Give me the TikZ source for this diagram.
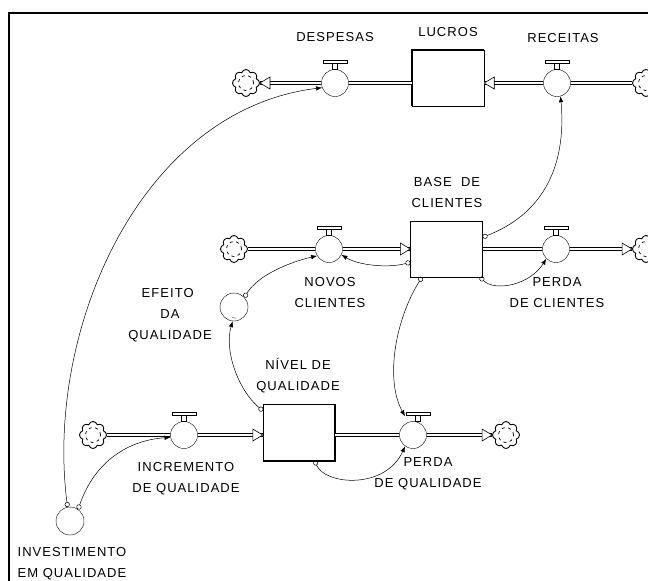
\documentclass[tikz,border=0pt]{standalone}
\usepackage{fontspec}
\newfontfamily\rotulo[LetterSpace=8]{Liberation Sans}
\usetikzlibrary{shapes.symbols,arrows.meta,calc}

\begin{document}
\begin{tikzpicture}[
    x=1pt, y=-1pt,
    estoque/.style={rectangle, draw, minimum width=72pt, minimum height=56pt, inner sep=0pt},
    valvula/.style={circle, draw, minimum size=27pt, inner sep=0pt},
    conversor/.style={circle, draw, minimum size=28pt, inner sep=0pt},
    nuvem/.style={cloud, cloud puffs=8, cloud puff arc=150, draw, line width=0.9pt, minimum width=27pt, minimum height=27pt, inner sep=0pt,
      path picture={\draw[line width=0.7pt, dash pattern=on 3pt off 3.5pt] (path picture bounding box.center) circle (7.5pt);}},
    fluxo/.style={double distance=2.2pt, line width=0.8pt},
    ponta/.style={draw, fill=white, line width=0.6pt},
    elo/.style={line width=0.5pt, {Circle[open,length=5pt,width=5pt]}-{Latex[length=6pt,width=4.5pt]}},
    rot/.style={font=\rotulo\fontsize{13}{21}\selectfont, align=center, inner sep=0pt}
  ]
    \useasboundingbox (0,0) rectangle (648,581);
    % moldura
    \draw[line width=1.5pt] (648,13) -- (9,13) -- (9,581);

    % Estoques
    \node[estoque] (lucros) at (448,78) {};
    \node[estoque] (base) at (446.5,249) {};
    \node[estoque] (nivel) at (299,432.5) {};
    \draw[line width=2pt] (lucros.south west) -- (lucros.north west) -- (lucros.north east);
    \draw[line width=2pt] (nivel.north east) -- (nivel.south east) -- (nivel.south west);

    % Fluxos
    \node[valvula] (desp) at (335,83) {};
    \node[valvula] (rec) at (557,83) {};
    \node[valvula] (novos) at (329,249) {};
    \node[valvula] (perdac) at (556,249) {};
    \node[valvula] (incr) at (184,435) {};
    \node[valvula] (perdaq) at (413,435) {};

    % Conversores
    \node[conversor] (efeito) at (234,307) {};
    \node[conversor] (invest) at (70,521) {};
    \node[font=\tiny, inner sep=0pt] (til) at ($(efeito.south)+(0,-3)$) {$\sim$};

    % Nuvens
    \node[nuvem] (n1) at (246,83) {};
    \node[nuvem] (n2) at (646,83) {};
    \node[nuvem] (n3) at (234,249) {};
    \node[nuvem] (n4) at (646,249) {};
    \node[nuvem] (n5) at (93,435) {};
    \node[nuvem] (n6) at (506,435) {};

    % Canos
    \draw[fluxo] (n1) -- (desp);
    \draw[fluxo] (desp) -- (lucros.west |- desp);
    \draw[fluxo] (n2) -- (rec);
    \draw[fluxo] (rec) -- (lucros.east |- rec);
    \draw[fluxo] (n3) -- (novos);
    \draw[fluxo] (novos) -- (base);
    \draw[fluxo] (base) -- (perdac);
    \draw[fluxo] (perdac) -- (n4);
    \draw[fluxo] (n5) -- (incr);
    \draw[fluxo] (incr) -- (nivel.west |- incr);
    \draw[fluxo] (nivel.east |- perdaq) -- (perdaq);
    \draw[fluxo] (perdaq) -- (n6);

    % Pontas dos canos
    \draw[ponta] (n1.east) -- ++(10,-6) -- ++(0,12) -- cycle;
    \draw[ponta] (lucros.east |- rec) -- ++(10,-6) -- ++(0,12) -- cycle;
    \draw[ponta] (base.west) -- ++(-10,-6) -- ++(0,12) -- cycle;
    \draw[ponta] (n4.west) -- ++(-10,-6) -- ++(0,12) -- cycle;
    \draw[ponta] (nivel.west |- incr) -- ++(-10,-6) -- ++(0,12) -- cycle;
    \draw[ponta] (n6.west) -- ++(-10,-6) -- ++(0,12) -- cycle;

    % Registros das valvulas
    \foreach \v/\d in {desp/0, rec/0, novos/0, perdac/0, incr/0, perdaq/5}{
      \draw[fill=white] ($(\v.north)+(\d-2.5,0)$) rectangle ++(5,-6);
      \draw[fill=white] ($(\v.north)+(\d-12,-6)$) rectangle ++(24,-3);
    }

    % Elos
    \draw[elo] (invest.100) .. controls (45,330) and (140,110) .. (desp.200);
    \draw[elo] (invest.55) .. controls (95,460) and (130,440) .. (incr.190);
    \draw[elo] (efeito.43) .. controls (258,275) and (290,262) .. (novos.210);
    \draw[elo] (base.200) .. controls (390,268) and (360,266) .. (novos.-25);
    \draw[elo] (base.18) .. controls (540,215) and (567,170) .. (rec.-75);
    \draw[elo] (base.-40) .. controls (495,292) and (530,285) .. (perdac.225);
    \draw[elo] (base.229) .. controls (395,320) and (385,380) .. ($(perdaq.north)+(-8,-5)$);
    \draw[elo] (nivel.149) .. controls (238,390) and (224,350) .. (efeito.-95);
    \draw[elo] (nivel.-61) .. controls (325,485) and (385,490) .. (perdaq.235);

    % Rotulos
    \node[rot] (tdesp) at (335,37) {DESPESAS};
    \node[rot] (tluc) at (448,32) {LUCROS};
    \node[rot] (trec) at (563,38) {RECEITAS};
    \node[rot] (tbase) at (447,193) {BASE\ \ DE\\CLIENTES};
    \node[rot] (tnovos) at (330,293) {NOVOS\\CLIENTES};
    \node[rot] (tperdac) at (557,293) {PERDA\\DE CLIENTES};
    \node[rot] (tefeito) at (170,315) {EFEITO\ \ \\DA\\QUALIDADE};
    \node[rot] (tnivel) at (298,376) {NÍVEL DE\\QUALIDADE};
    \node[rot] (tincr) at (186,479) {INCREMENTO\\DE QUALIDADE};
    \node[rot] (tperdaq) at (428,474) {PERDA\\DE QUALIDADE};
    \node[rot, align=left] (tinvest) at (72,564) {INVESTIMENTO\\EM QUALIDADE};
  \end{tikzpicture}
\end{document}
